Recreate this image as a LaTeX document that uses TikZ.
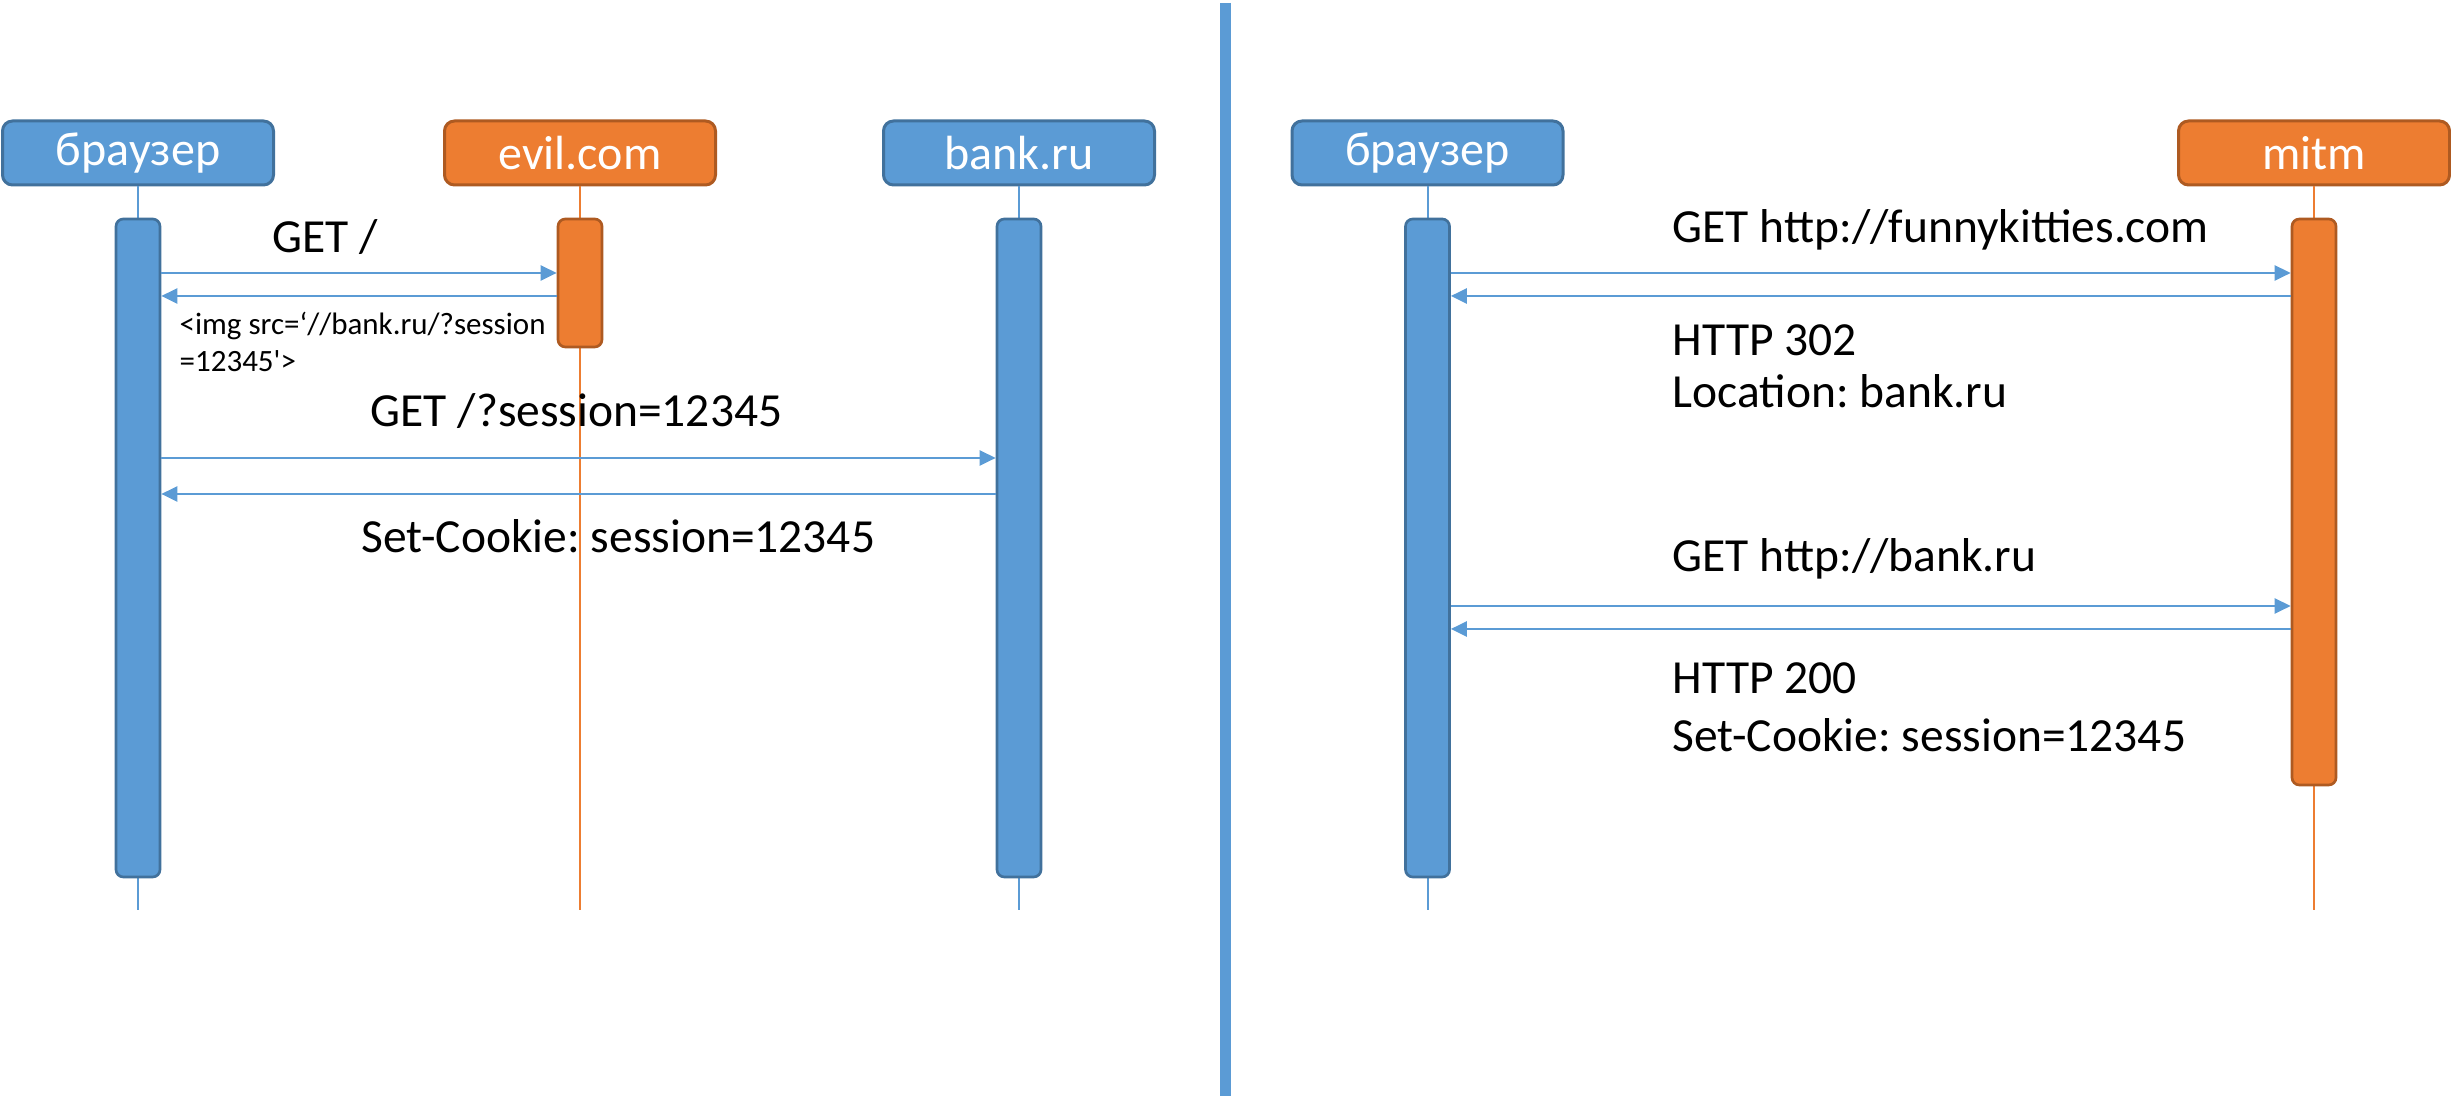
\documentclass[tikz,border=0pt]{standalone}
\usepackage{fontspec}
\setmainfont{Carlito}[Ligatures=TeXOff]
\usetikzlibrary{arrows.meta}
\definecolor{bfill}{HTML}{5B9BD5}
\definecolor{bline}{HTML}{41719C}
\definecolor{ofill}{HTML}{ED7D31}
\definecolor{oline}{HTML}{AE5A21}
\frenchspacing
\begin{document}
\frenchspacing
\begin{tikzpicture}[x=0.3pt,y=-0.3pt,
  actor/.style={line width=0.9pt, rounded corners=3pt, minimum width=81.3pt, minimum height=19.2pt, inner sep=0pt, text=white, font=\fontsize{14.4}{17}\selectfont},
  blueactor/.style={actor, fill=bfill, draw=bline},
  orangeactor/.style={actor, fill=ofill, draw=oline},
  bar/.style={line width=0.8pt, rounded corners=2.2pt, minimum width=13.2pt, inner sep=0pt},
  bluebar/.style={bar, fill=bfill, draw=bline},
  orangebar/.style={bar, fill=ofill, draw=oline},
  blife/.style={draw=bfill, line width=0.6pt},
  olife/.style={draw=ofill, line width=0.45pt},
  msg/.style={draw=bfill, line width=0.75pt, -{Triangle[length=4.8pt,width=4.5pt]}},
  lbl/.style={inner sep=0pt, anchor=base west, font=\fontsize{14.25}{17}\selectfont\frenchspacing},
  small/.style={inner sep=0pt, anchor=base west, font=\fontsize{9.3}{11}\selectfont\frenchspacing},
  divider/.style={draw=bfill, line width=3.3pt}
]
\useasboundingbox (0,0) rectangle (2451,1096);
% divider
\coordinate (dtop) at (1225.5,3);
\coordinate (dbot) at (1225.5,1096);
\draw[divider] (dtop) -- (dbot);
% actors
\node[blueactor] (aL) at (138,153) {браузер};
\node[orangeactor] (aE) at (580,153) {evil.com};
\node[blueactor] (aB) at (1019,153) {bank.ru};
\node[blueactor] (aR) at (1427.5,153) {браузер};
\node[orangeactor] (aM) at (2314,153) {mitm};
% lifeline ends
\coordinate (eL) at (138,910);
\coordinate (eE) at (580,910);
\coordinate (eB) at (1019,910);
\coordinate (eR) at (1427.5,910);
\coordinate (eM) at (2314,910);
\draw[blife] (aL.south) -- (eL);
\draw[olife] (aE.south) -- (eE);
\draw[blife] (aB.south) -- (eB);
\draw[blife] (aR.south) -- (eR);
\draw[olife] (aM.south) -- (eM);
% activation bars
\node[bluebar, minimum height=197.4pt] (bL) at (138,548) {};
\node[orangebar, minimum height=38.4pt] (bE) at (580,283) {};
\node[bluebar, minimum height=197.4pt] (bB) at (1019,548) {};
\node[bluebar, minimum height=197.4pt] (bR) at (1427.5,548) {};
\node[orangebar, minimum height=169.8pt] (bM) at (2314,502) {};
% left messages
\draw[msg] (bL.east |- 0,273) -- (bE.west |- 0,273);
\draw[msg] (bE.west |- 0,296) -- (bL.east |- 0,296);
\draw[msg] (bL.east |- 0,458) -- (bB.west |- 0,458);
\draw[msg] (bB.west |- 0,494) -- (bL.east |- 0,494);
% right messages
\draw[msg] (bR.east |- 0,273) -- (bM.west |- 0,273);
\draw[msg] (bM.west |- 0,296) -- (bR.east |- 0,296);
\draw[msg] (bR.east |- 0,606) -- (bM.west |- 0,606);
\draw[msg] (bM.west |- 0,629) -- (bR.east |- 0,629);
% left labels
\node[lbl] (t1) at (272,253) {GET /};
\node[small] (t2a) at (179,335) {<img src=‘//bank.ru/?session};
\node[small] (t2b) at (179,372) {=12345'>};
\node[lbl] (t3) at (370,427) {GET /?session=12345};
\node[lbl] (t4) at (361,553) {Set-Cookie: session=12345};
% right labels
\node[lbl] (r1) at (1672,243) {GET http://funnykitties.com};
\node[lbl] (r2a) at (1672,356) {HTTP 302};
\node[lbl] (r2b) at (1672,408) {Location: bank.ru};
\node[lbl] (r3) at (1672,572) {GET http://bank.ru};
\node[lbl] (r4a) at (1672,694) {HTTP 200};
\node[lbl] (r4b) at (1672,752) {Set-Cookie: session=12345};
\end{tikzpicture}
\end{document}
